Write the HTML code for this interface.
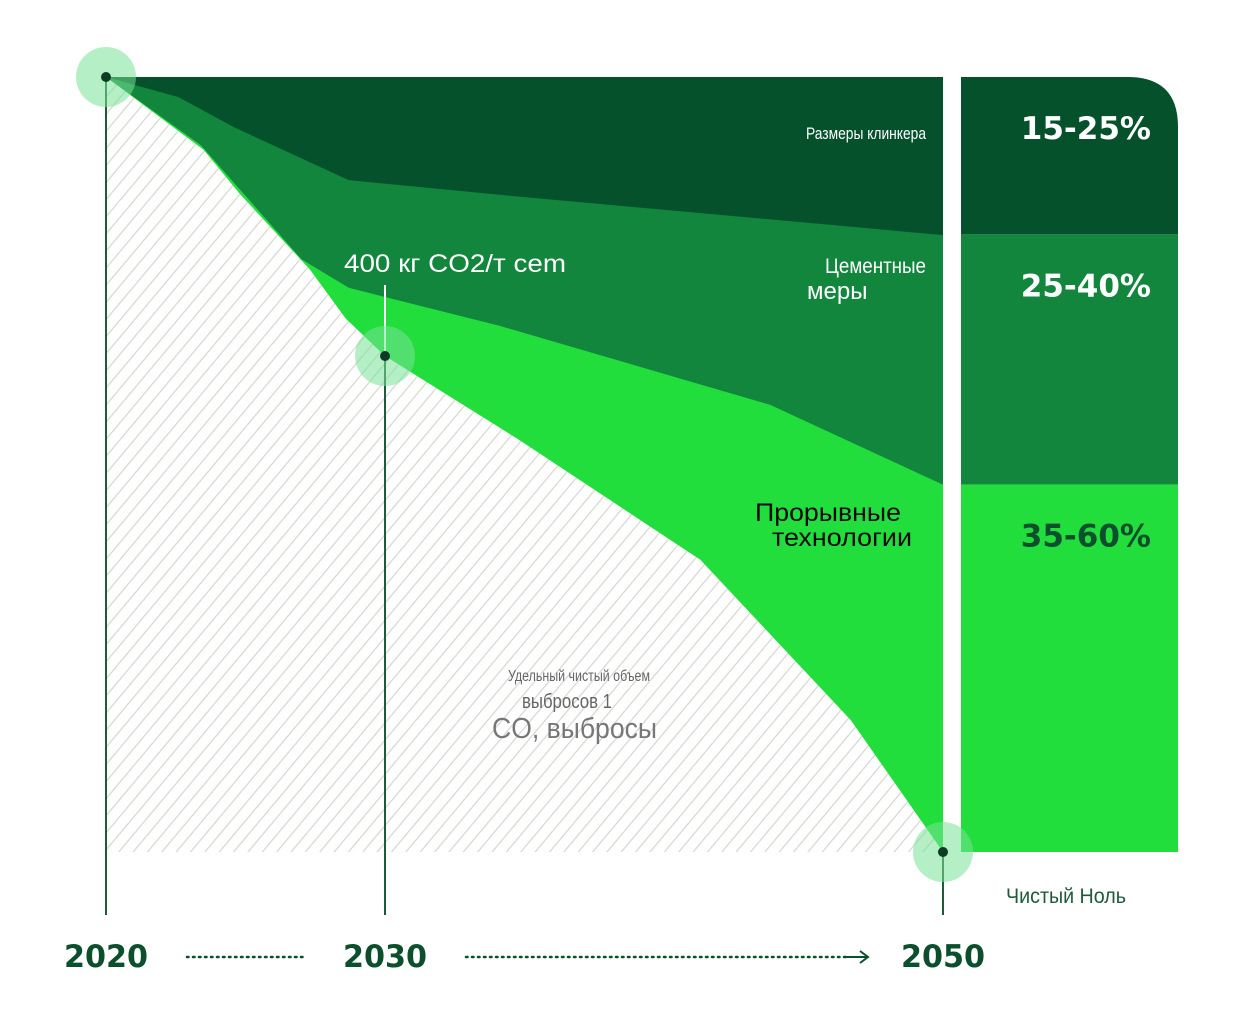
<!DOCTYPE html>
<html><head><meta charset="utf-8">
<style>
html,body{margin:0;padding:0;background:#fff;}
svg{display:block;font-family:"Liberation Sans",sans-serif;}
</style></head>
<body>
<svg id="chart" width="1242" height="1026" viewBox="0 0 1242 1026" xmlns="http://www.w3.org/2000/svg">
<defs>
<pattern id="hatch" patternUnits="userSpaceOnUse" width="11" height="11" patternTransform="rotate(40)">
<rect width="11" height="11" fill="#fff"/>
<line x1="0" y1="0" x2="0" y2="11" stroke="#d6d6d0" stroke-width="2.4"/>
</pattern>
</defs>
<g id="areas"></g>
<g id="overlay"></g>
</svg>
<script>
// Data
const clinkerYears = [2020, 2022.6, 2024.6, 2028.7, 2034.1, 2050];
const clinkerValues = [100, 97.4, 93.5, 86.7, 84.8, 79.6];
const cementYears = [2020, 2023.4, 2027.0, 2028.7, 2034.1, 2043.8, 2050];
const cementValues = [100, 91.2, 76.5, 72.8, 67.9, 57.7, 47.4];
const netYears = [2020, 2023.5, 2024.8, 2027.3, 2028.6, 2030, 2034.8, 2041.3, 2046.7, 2050];
const netValues = [100, 90.6, 84.9, 75.2, 68.8, 64.0, 53.2, 37.7, 17.0, 0];
const milestoneYears = [2020, 2030, 2050];
const milestoneValues = [100, 64.0, 0];
const barLabels = ["15-25%", "25-40%", "35-60%"];
const barBreaks = [100, 79.7, 47.4, 0];

const NS = "http://www.w3.org/2000/svg";
const X0 = 106, X1 = 943, Y0 = 852, Y1 = 77;
function xs(yr){ return X0 + (yr - 2020) / 30 * (X1 - X0); }
function ys(v){ return Y0 - v / 100 * (Y0 - Y1); }
function mk(tag, attrs, parent){
  const e = document.createElementNS(NS, tag);
  for (const k in attrs) e.setAttribute(k, attrs[k]);
  parent.appendChild(e); return e;
}
const areas = document.getElementById('areas');
const ov = document.getElementById('overlay');

function linePts(years, vals){ return years.map((y,i)=>xs(y).toFixed(1)+','+ys(vals[i]).toFixed(1)); }

let bg = mk('rect', {x:X0, y:Y1, width:X1-X0, height:Y0-Y1, fill:'url(#hatch)'}, areas);



function layer(years, vals, color, name){
  const pts = linePts(years, vals);
  const d = 'M' + pts.join(' L') + ' L' + xs(2050) + ',' + ys(100) + ' L' + xs(2020) + ',' + ys(100) + ' Z';
  const p = mk('path', {d:d, fill:color}, areas);
  
  
}
layer(netYears, netValues, '#22de3c', 'breakthrough-tech-area');
layer(cementYears, cementValues, '#12863c', 'cement-measures-area');
layer(clinkerYears, clinkerValues, '#04512c', 'clinker-area');

const BX = 961, BW = 217;
const barColors = ['#04512c', '#12863c', '#22de3c'];
const labelColors = ['#ffffff', '#ffffff', '#0b4f2c'];
for (let i = 0; i < 3; i++){
  const yt = ys(barBreaks[i]), yb = ys(barBreaks[i+1]);
  let seg;
  if (i === 0){
    const r = 50;
    seg = mk('path', {d:`M${BX},${yb} L${BX},${yt} L${BX+BW-r},${yt} Q${BX+BW},${yt} ${BX+BW},${yt+r} L${BX+BW},${yb} Z`, fill:barColors[i]}, ov);
  } else {
    seg = mk('rect', {x:BX, y:yt, width:BW, height:yb-yt, fill:barColors[i]}, ov);
  }
  
  
  const t = mk('text', {x:1151, y:yt + 62, 'text-anchor':'end', 'font-size':31, 'font-weight':'bold', fill:labelColors[i], 'font-family':'DejaVu Sans, sans-serif'}, ov);
  t.textContent = barLabels[i];
  
  
}

const lineBottoms = [915, 915, 915];
milestoneYears.forEach((yr, i) => {
  const l = mk('line', {x1:xs(yr), y1:ys(milestoneValues[i]), x2:xs(yr), y2:lineBottoms[i], stroke:'#1f5a3a', 'stroke-width':2}, ov);
  
  
});
let wl = mk('line', {x1:xs(2030), y1:285, x2:xs(2030), y2:ys(64), stroke:'#ffffff', 'stroke-width':2}, ov);


milestoneYears.forEach((yr, i) => {
  const c = mk('circle', {cx:xs(yr), cy:ys(milestoneValues[i]), r:30, fill:'rgba(120,225,150,0.55)'}, ov);
  
  
  const d = mk('circle', {cx:xs(yr), cy:ys(milestoneValues[i]), r:5, fill:'#0d3b24'}, ov);
  
  
});

milestoneYears.forEach(yr => {
  const t = mk('text', {x:xs(yr), y:967, 'text-anchor':'middle', 'font-size':31, 'font-weight':'bold', fill:'#0b4f2c', 'font-family':'DejaVu Sans, sans-serif', 'textLength':84, 'lengthAdjust':'spacingAndGlyphs'}, ov);
  t.textContent = String(yr);
  
  
});
let d1 = mk('line', {x1:187, y1:957, x2:307, y2:957, stroke:'#0b4f2c', 'stroke-width':2.5, 'stroke-dasharray':'1.5 4.5', 'stroke-linecap':'round'}, ov);


let d2 = mk('line', {x1:466, y1:957, x2:850, y2:957, stroke:'#0b4f2c', 'stroke-width':2.5, 'stroke-dasharray':'1.5 4.5', 'stroke-linecap':'round'}, ov);


let ar = mk('path', {d:'M846,957 L868,957 M860,951 L868,957 L860,963', stroke:'#0b4f2c', 'stroke-width':2, fill:'none'}, ov);



function txt(x, y, s, size, color, anchor, name, extra){
  const t = mk('text', Object.assign({x:x, y:y, 'font-size':size, fill:color, 'text-anchor':anchor}, extra||{}), ov);
  t.textContent = s;
  
  
}
txt(926, 139, 'Размеры клинкера', 17, '#ffffff', 'end', 'clinker-label', {'textLength':120, 'lengthAdjust':'spacingAndGlyphs'});
txt(926, 273, 'Цементные', 21, '#ffffff', 'end', 'cement-label-1', {'textLength':101, 'lengthAdjust':'spacingAndGlyphs'});
txt(807, 299, 'меры', 24, '#ffffff', 'start', 'cement-label-2');
txt(344, 272, '400 кг CO2/т cem', 25, '#ffffff', 'start', 'intensity-label', {'textLength':222, 'lengthAdjust':'spacingAndGlyphs'});
txt(755, 521, 'Прорывные', 25, '#0a0a0a', 'start', 'breakthrough-label-1', {'textLength':146, 'lengthAdjust':'spacingAndGlyphs'});
txt(772, 546, 'технологии', 25, '#0a0a0a', 'start', 'breakthrough-label-2', {'textLength':140, 'lengthAdjust':'spacingAndGlyphs'});
txt(650, 681, 'Удельный чистый объем', 16, '#666666', 'end', 'net-label-1', {'textLength':142, 'lengthAdjust':'spacingAndGlyphs'});
txt(612, 708, 'выбросов 1', 20, '#666666', 'end', 'net-label-2', {'textLength':90, 'lengthAdjust':'spacingAndGlyphs'});
txt(492, 738, 'CO, выбросы', 29, '#777777', 'start', 'net-label-3', {'textLength':165, 'lengthAdjust':'spacingAndGlyphs'});
txt(1006, 903, 'Чистый Ноль', 21, '#1f5a3a', 'start', 'net-zero-label', {'textLength':120, 'lengthAdjust':'spacingAndGlyphs'});
</script>
</body></html>
